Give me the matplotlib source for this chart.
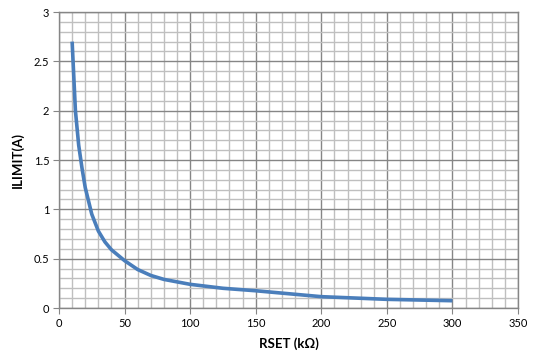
import matplotlib
matplotlib.use('Agg')
import matplotlib.pyplot as plt
from matplotlib.ticker import MultipleLocator

plt.rcParams['font.family'] = ['Lato', 'DejaVu Sans']

# RSET (kOhm) vs ILIMIT (A)
rset = [10, 12.5, 15, 17.5, 20, 25, 30, 35, 40, 50, 60, 70, 80,
        100, 125, 150, 175, 200, 250, 300]
ilimit = [2.7, 2.0, 1.65, 1.42, 1.22, 0.95, 0.78, 0.67, 0.59, 0.48, 0.39, 0.33, 0.29,
          0.24, 0.20, 0.175, 0.145, 0.115, 0.088, 0.074]

fig = plt.figure(figsize=(5.39, 3.64), dpi=100)
ax = fig.add_axes([0.1095, 0.1538, 0.8515, 0.8132])

ax.plot(rset, ilimit, color='#4a7ebb', linewidth=2.6, solid_capstyle='butt',
        solid_joinstyle='round', zorder=3)

ax.set_xlim(0, 350)
ax.set_ylim(0, 3)
ax.xaxis.set_major_locator(MultipleLocator(50))
ax.xaxis.set_minor_locator(MultipleLocator(10))
ax.yaxis.set_major_locator(MultipleLocator(0.5))
ax.yaxis.set_minor_locator(MultipleLocator(0.1))
ax.set_yticks([0, 0.5, 1, 1.5, 2, 2.5, 3])
ax.set_yticklabels(['0', '0.5', '1', '1.5', '2', '2.5', '3'])

ax.grid(which='minor', color='#bfbfbf', linewidth=1.0)
ax.grid(which='major', color='#868686', linewidth=1.0)
ax.set_axisbelow(True)

for s in ax.spines.values():
    s.set_color('#868686')
    s.set_linewidth(1.0)

ax.tick_params(which='major', length=4, color='#868686', labelsize=8, pad=3)
ax.tick_params(which='minor', length=0)

ax.set_xlabel('RSET (kΩ)', fontsize=9.5, fontweight='bold', labelpad=6)
ax.set_ylabel('ILIMIT(A)', fontsize=9.5, fontweight='bold', labelpad=7)

fig.savefig('out.png', dpi=100)
